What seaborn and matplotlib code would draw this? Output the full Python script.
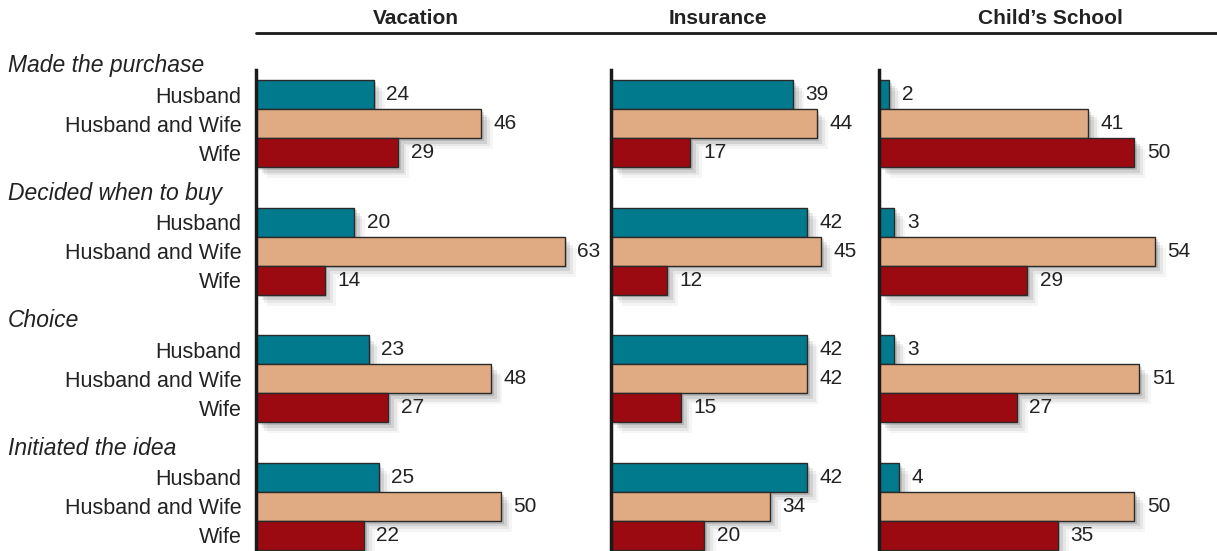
import pandas as pd
import seaborn as sns
import matplotlib.pyplot as plt
import matplotlib.patheffects as pe
from matplotlib.lines import Line2D
from matplotlib.transforms import blended_transform_factory

# data
panels = ["Vacation", "Insurance", "Child\u2019s School"]
groups = ["Made the purchase", "Decided when to buy", "Choice", "Initiated the idea"]
roles = ["Husband", "Husband and Wife", "Wife"]

vacation = [24, 46, 29, 20, 63, 14, 23, 48, 27, 25, 50, 22]
insurance = [39, 44, 17, 42, 45, 12, 42, 42, 15, 42, 34, 20]
school = [2, 41, 50, 3, 54, 29, 3, 51, 27, 4, 50, 35]

colors = {"Husband": "#007a8c", "Husband and Wife": "#e0ab82", "Wife": "#9b0a10"}

rows = []
for panel, vals in zip(panels, [vacation, insurance, school]):
    for i, v in enumerate(vals):
        g, r = divmod(i, 3)
        rows.append({"panel": panel, "group": groups[g], "role": roles[r],
                     "pos": g * 4.4 + r, "value": v})
df = pd.DataFrame(rows)

sns.set_style("white")
plt.rcParams["font.family"] = ["Liberation Sans", "DejaVu Sans"]

W, H = 1217, 551
fig = plt.figure(figsize=(W / 100, H / 100), dpi=100)

# axes placement in pixels: left, width, xmax
layout = {"Vacation": (256, 343, 70), "Insurance": (611, 243, 52),
          "Child\u2019s School": (879, 337, 66)}
header_x = {"Vacation": 416, "Insurance": 718, "Child\u2019s School": 1050}
top_px = 70
text_col = "#222222"

shadow = [pe.SimplePatchShadow(offset=(2, -2), shadow_rgbFace="k", alpha=0.12),
          pe.SimplePatchShadow(offset=(4, -4), shadow_rgbFace="k", alpha=0.09),
          pe.SimplePatchShadow(offset=(6, -6), shadow_rgbFace="k", alpha=0.06),
          pe.SimplePatchShadow(offset=(8, -8), shadow_rgbFace="k", alpha=0.04),
          pe.Normal()]

axes = []
for k, panel in enumerate(panels):
    left, width, xmax = layout[panel]
    ax = fig.add_axes([left / W, 0, width / W, (H - top_px) / H])
    sub = df[df["panel"] == panel]
    sns.barplot(data=sub, x="value", y="pos", hue="role", hue_order=roles,
                palette=colors, orient="h", native_scale=True, dodge=False,
                width=1.0, edgecolor="#2a2a2a", linewidth=1.0, legend=False,
                saturation=1, ax=ax)
    for patch in ax.patches:
        patch.set_path_effects(shadow)
    for cont in ax.containers:
        ax.bar_label(cont, padding=9, fontsize=15, color=text_col)
    ax.set_xlim(0, xmax)
    ax.set_ylim(15.74, -0.845)
    ax.set_xlabel("")
    ax.set_ylabel("")
    ax.set_xticks([])
    sns.despine(ax=ax, top=True, right=True, bottom=True)
    ax.spines["left"].set_linewidth(2.5)
    ax.spines["left"].set_color("#1a1a1a")
    ax.spines["left"].set_zorder(5)
    if k == 0:
        ax.set_yticks(sub["pos"].tolist())
        ax.set_yticklabels(sub["role"].tolist(), fontsize=15.5, color=text_col)
        ax.tick_params(axis="y", length=0, pad=10.5)
    else:
        ax.set_yticks([])
    ax.patch.set_alpha(0)
    fig.text(header_x[panel] / W, 1 - 19 / H, panel, ha="center", va="center",
             fontsize=15, fontweight="bold", color=text_col)
    axes.append(ax)

# group labels on the left
trans = blended_transform_factory(fig.transFigure, axes[0].transData)
for g, name in enumerate(groups):
    axes[0].text(8 / W, g * 4.4 - 1.0, name, transform=trans, ha="left",
                 va="center", fontsize=16.5, style="italic", color=text_col,
                 clip_on=False)

fig.add_artist(Line2D([256 / W, 1.0], [1 - 33 / H, 1 - 33 / H],
                      transform=fig.transFigure, color="#1a1a1a", lw=2))

fig.savefig("out.png", dpi=100)
